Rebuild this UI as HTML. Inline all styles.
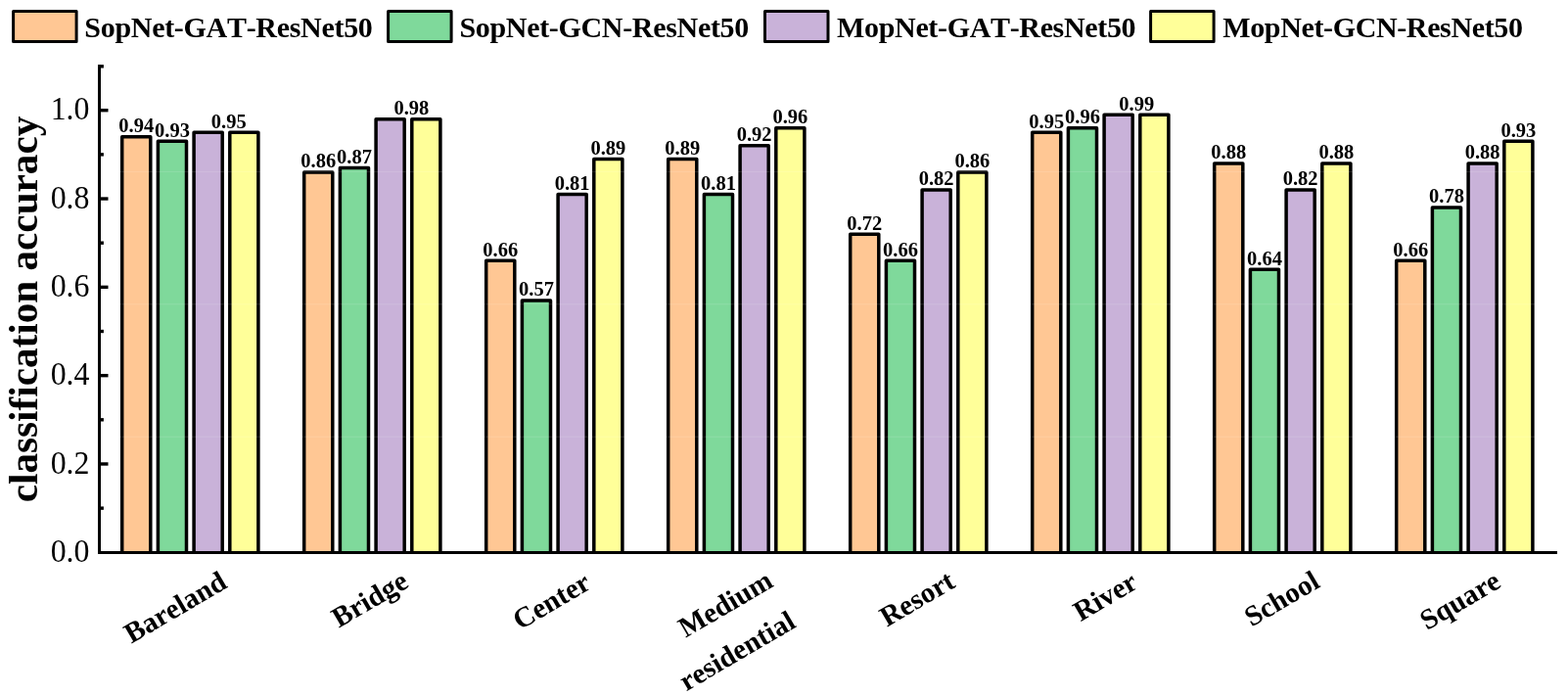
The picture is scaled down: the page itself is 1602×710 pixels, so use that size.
<!DOCTYPE html>
<html lang="en"><head><meta charset="utf-8"><title>classification accuracy</title>
<style>html,body{margin:0;padding:0;background:#fff}body{width:1602px;height:710px;overflow:hidden}svg{display:block}text{font-family:"Liberation Serif","Times New Roman",serif;fill:#000;font-kerning:none;font-variant-ligatures:none}.b{font-weight:bold}</style></head><body>
<svg width="1602" height="710" viewBox="0 0 1602 710">
<rect width="1602" height="710" fill="#fff"/>
<g stroke="#000" stroke-width="3.5" stroke-linejoin="round">
<path d="M124.70 564.40V139.80h29.10V564.40" fill="#FFC794"/>
<path d="M161.40 564.40V144.31h29.10V564.40" fill="#7FD99B"/>
<path d="M198.10 564.40V135.28h29.10V564.40" fill="#C9B2D9"/>
<path d="M234.80 564.40V135.28h29.10V564.40" fill="#FFFF99"/>
<path d="M310.70 564.40V175.92h29.10V564.40" fill="#FFC794"/>
<path d="M347.40 564.40V171.41h29.10V564.40" fill="#7FD99B"/>
<path d="M384.10 564.40V121.73h29.10V564.40" fill="#C9B2D9"/>
<path d="M420.80 564.40V121.73h29.10V564.40" fill="#FFFF99"/>
<path d="M496.70 564.40V266.24h29.10V564.40" fill="#FFC794"/>
<path d="M533.40 564.40V306.89h29.10V564.40" fill="#7FD99B"/>
<path d="M570.10 564.40V198.50h29.10V564.40" fill="#C9B2D9"/>
<path d="M606.80 564.40V162.38h29.10V564.40" fill="#FFFF99"/>
<path d="M682.70 564.40V162.38h29.10V564.40" fill="#FFC794"/>
<path d="M719.40 564.40V198.50h29.10V564.40" fill="#7FD99B"/>
<path d="M756.10 564.40V148.83h29.10V564.40" fill="#C9B2D9"/>
<path d="M792.80 564.40V130.76h29.10V564.40" fill="#FFFF99"/>
<path d="M868.70 564.40V239.15h29.10V564.40" fill="#FFC794"/>
<path d="M905.40 564.40V266.24h29.10V564.40" fill="#7FD99B"/>
<path d="M942.10 564.40V193.99h29.10V564.40" fill="#C9B2D9"/>
<path d="M978.80 564.40V175.92h29.10V564.40" fill="#FFFF99"/>
<path d="M1054.70 564.40V135.28h29.10V564.40" fill="#FFC794"/>
<path d="M1091.40 564.40V130.76h29.10V564.40" fill="#7FD99B"/>
<path d="M1128.10 564.40V117.22h29.10V564.40" fill="#C9B2D9"/>
<path d="M1164.80 564.40V117.22h29.10V564.40" fill="#FFFF99"/>
<path d="M1240.70 564.40V166.89h29.10V564.40" fill="#FFC794"/>
<path d="M1277.40 564.40V275.28h29.10V564.40" fill="#7FD99B"/>
<path d="M1314.10 564.40V193.99h29.10V564.40" fill="#C9B2D9"/>
<path d="M1350.80 564.40V166.89h29.10V564.40" fill="#FFFF99"/>
<path d="M1426.70 564.40V266.24h29.10V564.40" fill="#FFC794"/>
<path d="M1463.40 564.40V212.05h29.10V564.40" fill="#7FD99B"/>
<path d="M1500.10 564.40V166.89h29.10V564.40" fill="#C9B2D9"/>
<path d="M1536.80 564.40V144.31h29.10V564.40" fill="#FFFF99"/>
</g>
<g stroke="#000" stroke-width="3" fill="none">
<path d="M101.50 66.10 V564.40 H1591.00"/>
<path stroke-width="3.4" d="M101.50 519.14h4.40"/>
<path stroke-width="3.4" d="M101.50 473.98h9.00"/>
<path stroke-width="3.4" d="M101.50 428.82h4.40"/>
<path stroke-width="3.4" d="M101.50 383.66h9.00"/>
<path stroke-width="3.4" d="M101.50 338.50h4.40"/>
<path stroke-width="3.4" d="M101.50 293.34h9.00"/>
<path stroke-width="3.4" d="M101.50 248.18h4.40"/>
<path stroke-width="3.4" d="M101.50 203.02h9.00"/>
<path stroke-width="3.4" d="M101.50 157.86h4.40"/>
<path stroke-width="3.4" d="M101.50 112.70h9.00"/>
<path stroke-width="3.4" d="M101.50 67.80h4.40"/>
</g>
<rect x="103" y="174.9" width="1490" height="1" fill="#fff" opacity=".13"/>
<rect x="103" y="310.3" width="1490" height="1" fill="#fff" opacity=".13"/>
<rect x="103" y="445.7" width="1490" height="1" fill="#fff" opacity=".13"/>
<g font-size="32.5" text-anchor="end">
<text transform="translate(91.50 574.10) scale(0.98 1.055)">0.0</text>
<text transform="translate(91.50 484.28) scale(0.98 1.055)">0.2</text>
<text transform="translate(91.50 393.16) scale(0.98 1.055)">0.4</text>
<text transform="translate(91.50 302.84) scale(0.98 1.055)">0.6</text>
<text transform="translate(91.50 212.52) scale(0.98 1.055)">0.8</text>
<text transform="translate(91.50 122.20) scale(0.98 1.055)">1.0</text>
</g>
<g class="b" font-size="20.5" text-anchor="middle">
<text transform="translate(139.25 135.15) scale(1 1.07)">0.94</text>
<text transform="translate(175.95 139.66) scale(1 1.07)">0.93</text>
<text transform="translate(233.70 130.63) scale(1 1.07)">0.95</text>
<text transform="translate(325.25 171.27) scale(1 1.07)">0.86</text>
<text transform="translate(361.95 166.76) scale(1 1.07)">0.87</text>
<text transform="translate(420.40 117.08) scale(1 1.07)">0.98</text>
<text transform="translate(511.25 261.59) scale(1 1.07)">0.66</text>
<text transform="translate(547.95 302.24) scale(1 1.07)">0.57</text>
<text transform="translate(584.65 193.85) scale(1 1.07)">0.81</text>
<text transform="translate(621.35 157.73) scale(1 1.07)">0.89</text>
<text transform="translate(697.25 157.73) scale(1 1.07)">0.89</text>
<text transform="translate(733.95 193.85) scale(1 1.07)">0.81</text>
<text transform="translate(770.65 144.18) scale(1 1.07)">0.92</text>
<text transform="translate(807.35 126.11) scale(1 1.07)">0.96</text>
<text transform="translate(883.25 234.50) scale(1 1.07)">0.72</text>
<text transform="translate(919.95 261.59) scale(1 1.07)">0.66</text>
<text transform="translate(956.65 189.34) scale(1 1.07)">0.82</text>
<text transform="translate(993.35 171.27) scale(1 1.07)">0.86</text>
<text transform="translate(1069.25 130.63) scale(1 1.07)">0.95</text>
<text transform="translate(1105.95 126.11) scale(1 1.07)">0.96</text>
<text transform="translate(1161.20 112.57) scale(1 1.07)">0.99</text>
<text transform="translate(1255.25 162.24) scale(1 1.07)">0.88</text>
<text transform="translate(1291.95 270.63) scale(1 1.07)">0.64</text>
<text transform="translate(1328.65 189.34) scale(1 1.07)">0.82</text>
<text transform="translate(1365.35 162.24) scale(1 1.07)">0.88</text>
<text transform="translate(1441.25 261.59) scale(1 1.07)">0.66</text>
<text transform="translate(1477.95 207.40) scale(1 1.07)">0.78</text>
<text transform="translate(1514.65 162.24) scale(1 1.07)">0.88</text>
<text transform="translate(1551.35 139.66) scale(1 1.07)">0.93</text>
</g>
<g stroke="#000" stroke-width="3" stroke-linejoin="round">
<rect x="13.60" y="11.4" width="64.5" height="31.1" fill="#FFC794"/>
<rect x="396.60" y="11.4" width="64.5" height="31.1" fill="#7FD99B"/>
<rect x="781.50" y="11.4" width="64.5" height="31.1" fill="#C9B2D9"/>
<rect x="1175.60" y="11.4" width="64.5" height="31.1" fill="#FFFF99"/>
</g>
<g class="b" font-size="30">
<text x="86.30" y="37.70" letter-spacing="-0.300">SopNet-GAT-ResNet50</text>
<text x="469.40" y="37.70" letter-spacing="-0.320">SopNet-GCN-ResNet50</text>
<text x="855.10" y="37.70" letter-spacing="-0.340">MopNet-GAT-ResNet50</text>
<text x="1249.30" y="37.70" letter-spacing="-0.370">MopNet-GCN-ResNet50</text>
</g>
<text class="b" font-size="41.2" text-anchor="middle" transform="translate(37.5 316) rotate(-90)">classification accuracy</text>
<g class="b" font-size="29.2" text-anchor="end">
<text transform="translate(233.5 599.5) rotate(-30.4)">Bareland</text>
<text transform="translate(419 599) rotate(-30.4)">Bridge</text>
<text transform="translate(605.3 600.5) rotate(-30.4)">Center</text>
<text transform="translate(791.5 598.5) rotate(-30.4)">Medium</text>
<text transform="translate(814.5 640) rotate(-30.4)">residential</text>
<text transform="translate(977.5 599) rotate(-30.4)">Resort</text>
<text transform="translate(1164 600) rotate(-30.4)">River</text>
<text transform="translate(1350 599) rotate(-30.4)">School</text>
<text transform="translate(1535 599) rotate(-30.4)">Square</text>
</g>
</svg></body></html>
